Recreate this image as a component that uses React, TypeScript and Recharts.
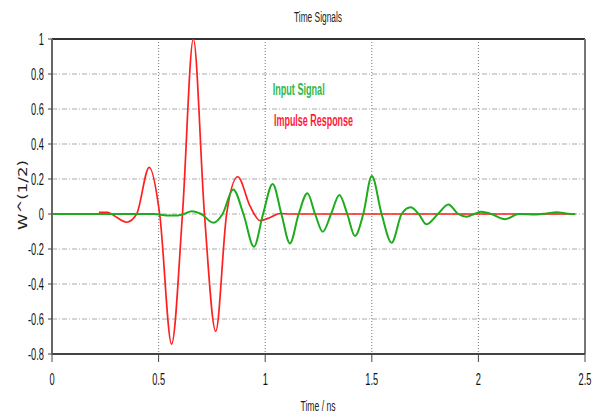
import React from 'react';
import { LineChart, Line, XAxis, YAxis, CartesianGrid, ReferenceLine } from 'recharts';

// values
const impulseTime = [0.22, 0.26, 0.29, 0.35, 0.397, 0.456, 0.505, 0.561, 0.612, 0.663, 0.715, 0.768, 0.819, 0.871, 0.929, 0.976, 1.023, 1.07, 1.12, 2.45];
const impulseValue = [0.01, 0.01, -0.008, -0.047, 0, 0.267, 0, -0.743, 0, 1.0, 0, -0.67, 0, 0.213, 0.045, -0.038, -0.02, 0.003, 0, 0];

const inputTime = [0, 0.48, 0.54, 0.59, 0.62, 0.655, 0.70, 0.757, 0.80, 0.85, 0.898, 0.947, 0.99, 1.035, 1.076, 1.116, 1.157, 1.198, 1.234, 1.27, 1.309, 1.348, 1.385, 1.421, 1.46, 1.50, 1.546, 1.593, 1.64, 1.682, 1.72, 1.757, 1.81, 1.859, 1.905, 1.945, 1.98, 2.015, 2.06, 2.125, 2.19, 2.27, 2.32, 2.367, 2.42, 2.455];
const inputValue = [0, 0, -0.008, -0.008, 0, 0.016, 0, -0.05, 0, 0.14, 0, -0.187, 0, 0.171, 0, -0.168, 0, 0.118, 0, -0.101, 0, 0.109, 0, -0.126, 0, 0.217, 0, -0.164, 0, 0.038, 0, -0.059, 0, 0.055, 0, -0.015, 0, 0.013, 0, -0.03, 0, -0.003, 0.003, 0.01, 0.002, 0];

const xTicks = [0, 0.5, 1, 1.5, 2, 2.5];
const yTicks = [-0.8, -0.6, -0.4, -0.2, 0, 0.2, 0.4, 0.6, 0.8, 1];

const impulseData = impulseTime.map((t, i) => ({ t, v: impulseValue[i] }));
const inputData = inputTime.map((t, i) => ({ t, v: inputValue[i] }));

const FONT = "'Liberation Sans', Arial, sans-serif";

const XTick = (props: any) => {
  const { x, y, payload } = props;
  return (
    <text
      x={0}
      y={0}
      transform={`translate(${x} ${y + 11.5}) scale(0.58 1)`}
      textAnchor="middle"
      fontFamily={FONT}
      fontSize={16}
      fill="#111"
    >
      {payload.value}
    </text>
  );
};

const YTick = (props: any) => {
  const { x, y, payload } = props;
  return (
    <text
      x={0}
      y={0}
      transform={`translate(${x} ${y + 5.7}) scale(0.58 1)`}
      textAnchor="end"
      fontFamily={FONT}
      fontSize={16}
      fill="#111"
    >
      {payload.value}
    </text>
  );
};

export default function App() {
  return (
    <div style={{ position: 'absolute', left: 0, top: 0, width: 598, height: 417, background: '#fff' }}>
      <LineChart width={598} height={417} margin={{ top: 39, right: 13, bottom: 0, left: 0 }}>
        <CartesianGrid horizontal={true} vertical={false} stroke="#aaa" strokeDasharray="5 2 1 2" />
        <CartesianGrid horizontal={false} vertical={true} stroke="#777" strokeDasharray="1 2" />
        <XAxis
          dataKey="t"
          type="number"
          domain={[0, 2.5]}
          ticks={xTicks}
          height={63}
          tickSize={8}
          tickMargin={11}
          axisLine={{ stroke: '#444', strokeWidth: 2 }}
          tickLine={{ stroke: '#444' }}
          tick={<XTick />}
          allowDataOverflow
        />
        <YAxis
          type="number"
          domain={[-0.8, 1]}
          ticks={yTicks}
          width={52}
          tickSize={4}
          tickMargin={4}
          axisLine={{ stroke: '#666', strokeWidth: 2 }}
          tickLine={{ stroke: '#444' }}
          tick={<YTick />}
          allowDataOverflow
        />
        <ReferenceLine y={1} stroke="#333" strokeWidth={2} />
        <ReferenceLine x={2.5} stroke="#777" strokeWidth={2} />
        <Line
          data={impulseData}
          dataKey="v"
          type="monotone"
          stroke="#ff1f1f"
          strokeWidth={1.7}
          dot={false}
          isAnimationActive={false}
        />
        <Line
          data={inputData}
          dataKey="v"
          type="monotone"
          stroke="#1eab1e"
          strokeWidth={2}
          dot={false}
          isAnimationActive={false}
        />
      </LineChart>
      <svg
        width={598}
        height={417}
        style={{ position: 'absolute', left: 0, top: 0, pointerEvents: 'none' }}
      >
        <text x={318} y={22} textAnchor="middle" fontFamily={FONT} fontSize={14} fill="#222" textLength={48} lengthAdjust="spacingAndGlyphs">
          Time Signals
        </text>
        <text x={272.7} y={94.5} fontFamily={FONT} fontSize={16} fontWeight="bold" fill="#2db84a" textLength={52} lengthAdjust="spacingAndGlyphs">
          Input Signal
        </text>
        <text x={274} y={125.5} fontFamily={FONT} fontSize={16} fontWeight="bold" fill="#ff1a3c" textLength={79} lengthAdjust="spacingAndGlyphs">
          Impulse Response
        </text>
        <text x={318} y={411} textAnchor="middle" fontFamily={FONT} fontSize={15} fill="#222" textLength={35} lengthAdjust="spacingAndGlyphs">
          Time / ns
        </text>
        <text
          transform="translate(27 195) rotate(-90)"
          x={0}
          y={0}
          textAnchor="middle"
          fontFamily="'DejaVu Sans', sans-serif"
          fontSize={13}
          fill="#222"
          textLength={70}
          lengthAdjust="spacingAndGlyphs"
        >
          W^(1/2)
        </text>
      </svg>
    </div>
  );
}
